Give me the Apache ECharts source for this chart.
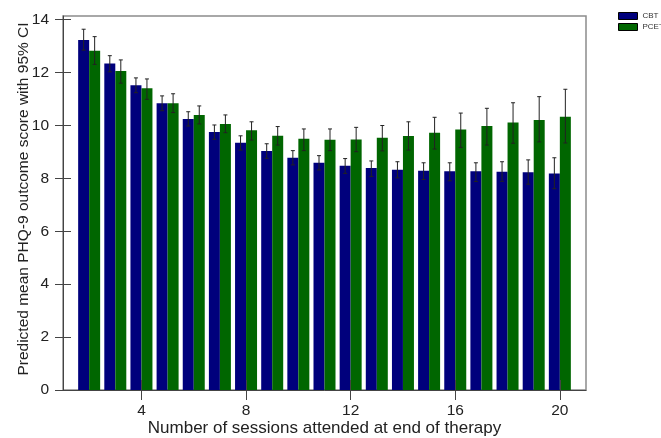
<!DOCTYPE html>
<html>
<head>
<meta charset="utf-8">
<script src="https://cdn.jsdelivr.net/npm/echarts@6/dist/echarts.min.js"></script>
<style>
  html, body { margin: 0; padding: 0; background: #fff; }
  #chart { width: 661px; height: 438px; }
</style>
</head>
<body>
<div id="chart"></div>
<script>
// sessions attended (x) and predicted PHQ-9 with 95% CI
const sessions = [2, 3, 4, 5, 6, 7, 8, 9, 10, 11, 12, 13, 14, 15, 16, 17, 18, 19, 20]
const cbtMean = [13.23, 12.34, 11.52, 10.84, 10.25, 9.75, 9.35, 9.04, 8.78, 8.59, 8.48, 8.39, 8.33, 8.29, 8.27, 8.27, 8.25, 8.23, 8.19]
const cbtLow = [12.85, 12.03, 11.24, 10.56, 9.98, 9.48, 9.07, 8.76, 8.51, 8.32, 8.19, 8.07, 8.02, 7.96, 7.91, 7.88, 7.89, 7.78, 7.61]
const cbtHigh = [13.64, 12.64, 11.80, 11.12, 10.52, 10.02, 9.61, 9.31, 9.05, 8.86, 8.75, 8.66, 8.63, 8.59, 8.59, 8.59, 8.63, 8.70, 8.78]
const pcetMean = [12.83, 12.06, 11.41, 10.84, 10.40, 10.06, 9.82, 9.61, 9.50, 9.46, 9.47, 9.54, 9.60, 9.73, 9.85, 9.98, 10.11, 10.21, 10.33]
const pcetLow = [12.31, 11.60, 10.99, 10.49, 10.06, 9.73, 9.45, 9.26, 9.05, 9.05, 9.01, 9.04, 9.07, 9.11, 9.17, 9.26, 9.33, 9.38, 9.34]
const pcetHigh = [13.36, 12.48, 11.76, 11.20, 10.74, 10.40, 10.14, 9.96, 9.87, 9.87, 9.93, 10.00, 10.14, 10.31, 10.47, 10.65, 10.86, 11.09, 11.37]
const xTicks = [4, 8, 12, 16, 20]
const yTicks = [0, 2, 4, 6, 8, 10, 12, 14]

const cbtColor = '#00007c'
const pcetColor = '#006600'
const textColor = '#222'
const font = 'Liberation Sans, Arial, sans-serif'

const myChart = echarts.init(document.getElementById('chart'))

// error bar drawn at pixel offset from the session value
function errorBar(offset) {
  return function (params, api) {
    const x = api.value(0)
    const lo = api.coord([x, api.value(1)])
    const hi = api.coord([x, api.value(2)])
    const cx = lo[0] + offset
    const cap = 2
    const style = { stroke: '#222', lineWidth: 1 }
    return {
      type: 'group',
      children: [
        { type: 'line', shape: { x1: cx, y1: lo[1], x2: cx, y2: hi[1] }, style: style },
        { type: 'line', shape: { x1: cx - cap, y1: hi[1], x2: cx + cap, y2: hi[1] }, style: style },
        { type: 'line', shape: { x1: cx - cap, y1: lo[1], x2: cx + cap, y2: lo[1] }, style: style }
      ]
    }
  }
}

const axisLine = { show: true, lineStyle: { color: '#444', width: 1 } }

myChart.setOption({
  animation: false,
  textStyle: { fontFamily: font },
  grid: {
    left: 63,
    right: 75,
    top: 16,
    bottom: 48,
    outerBoundsMode: 'none',
    containLabel: false,
    show: true,
    borderColor: '#8c8c8c',
    borderWidth: 1.5
  },
  legend: {
    orient: 'vertical',
    left: 618,
    top: 12,
    padding: 0,
    itemWidth: 19,
    itemHeight: 7,
    itemGap: 3,
    icon: 'rect',
    itemStyle: { borderColor: '#000', borderWidth: 1 },
    textStyle: { fontSize: 8, color: '#333' },
    data: ['CBT', 'PCET']
  },
  xAxis: [
    {
      type: 'value',
      min: 1,
      max: 21,
      name: 'Number of sessions attended at end of therapy',
      nameLocation: 'middle',
      nameGap: 30,
      nameMoveOverlap: false,
      nameTextStyle: { fontSize: 17, color: textColor },
      axisLine: axisLine,
      axisTick: { show: true, length: 10, customValues: xTicks, lineStyle: { color: '#444' } },
      axisLabel: { customValues: xTicks, fontSize: 15.5, color: textColor, margin: 13 },
      splitLine: { show: false }
    },
    {
      type: 'value',
      min: 1,
      max: 21,
      position: 'bottom',
      z: 5,
      axisLine: { show: false },
      axisTick: { show: true, inside: true, length: 10, customValues: xTicks, lineStyle: { color: '#444' } },
      axisLabel: { show: false },
      splitLine: { show: false }
    }
  ],
  yAxis: [
    {
      type: 'value',
      min: 0,
      max: 14.14,
      name: 'Predicted mean PHQ-9 outcome score with 95% CI',
      nameLocation: 'middle',
      nameGap: 31,
      nameMoveOverlap: false,
      nameTextStyle: { fontSize: 15.5, color: textColor, padding: [0, 0, 0, 8] },
      axisLine: axisLine,
      axisTick: { show: true, length: 8, customValues: yTicks, lineStyle: { color: '#444' } },
      axisLabel: { customValues: yTicks, fontSize: 15.5, color: textColor, margin: 14 },
      splitLine: { show: false }
    },
    {
      type: 'value',
      min: 0,
      max: 14.14,
      position: 'left',
      axisLine: { show: false },
      axisTick: { show: true, inside: true, length: 8, customValues: yTicks, lineStyle: { color: '#444' } },
      axisLabel: { show: false },
      splitLine: { show: false }
    }
  ],
  series: [
    {
      name: 'CBT',
      type: 'bar',
      barWidth: 11,
      barGap: '0%',
      itemStyle: { color: cbtColor },
      data: sessions.map((s, i) => [s, cbtMean[i]])
    },
    {
      name: 'PCET',
      type: 'bar',
      barWidth: 11,
      barGap: '0%',
      itemStyle: { color: pcetColor },
      data: sessions.map((s, i) => [s, pcetMean[i]])
    },
    {
      type: 'custom',
      renderItem: errorBar(-5.5),
      z: 4,
      data: sessions.map((s, i) => [s, cbtLow[i], cbtHigh[i]])
    },
    {
      type: 'custom',
      renderItem: errorBar(5.5),
      z: 4,
      data: sessions.map((s, i) => [s, pcetLow[i], pcetHigh[i]])
    }
  ]
})
</script>
</body>
</html>
